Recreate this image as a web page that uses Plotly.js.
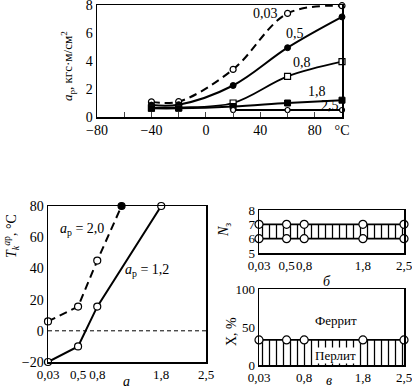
<!DOCTYPE html>
<html>
<head>
<meta charset="utf-8">
<script src="https://cdn.plot.ly/plotly-3.0.1.min.js"></script>
<style>html,body{margin:0;padding:0;background:#fff;}#chart{width:412px;height:389px;}</style>
</head>
<body>
<div id="chart"></div>
<script>
// Top panel: impact strength vs temperature for several a values
const tempX = [-40, -20, 20, 60, 100];
const ap003 = [1.08, 1.1, 3.4, 7.4, 7.95];
const ap05 = [0.85, 0.88, 2.25, 4.95, 7.15];
const ap08 = [0.65, 0.68, 1.0, 2.9, 3.95];
const ap18 = [0.62, 0.62, 0.75, 1.0, 1.2];
const tempX25 = [20, 60, 100];
const ap25 = [0.5, 0.5, 0.5];
const topTickVals = [-80, -60, -40, -20, 0, 20, 40, 60, 80, 100];
const topTickText = ['−80', '', '−40', '', '0', '', '40', '', '80', '°C'];

// Panel a: transition temperature vs a
const aX20 = [0.03, 0.5, 0.8, 1.18];
const tk20 = [6, 15.5, 45, 80];
const aX12 = [0.03, 0.5, 0.8, 1.8];
const tk12 = [-20, -10, 15.5, 80];
const aTickVals = [0.03, 0.5, 0.8, 1.8, 2.5];
const aTickText = ['0,03', '0,5', '0,8', '1,8', '2,5'];

// Panel б: grain number
const nX = [0.03, 0.5, 0.8, 1.8, 2.5];
const nLow = [6, 6, 6, 6, 6];
const nHigh = [7, 7, 7, 7, 7];

// Panel в: pearlite share
const xX = [0.03, 0.5, 0.8, 1.8, 2.5];
const xPearl = [33, 33, 33, 33, 33];
const vTickVals = [0.03, 0.8, 1.8, 2.5];
const vTickText = ['0,03', '0,8', '1,8', '2,5'];

const F = 'Liberation Serif, Times New Roman, serif';
const openM = (s, sym) => ({symbol: sym || 'circle', size: s, color: 'white', line: {color: 'black', width: 1.2}});
const fillM = (s, sym) => ({symbol: sym || 'circle', size: s, color: 'black', line: {color: 'black', width: 1}});

const traces = [
  {x: tempX, y: ap003, xaxis: 'x', yaxis: 'y', mode: 'lines+markers', line: {color: 'black', width: 2, dash: '8px,5px', shape: 'spline'}, marker: openM(6), cliponaxis: false},
  {x: tempX, y: ap05, xaxis: 'x', yaxis: 'y', mode: 'lines+markers', line: {color: 'black', width: 2, shape: 'spline'}, marker: fillM(6), cliponaxis: false},
  {x: tempX, y: ap08, xaxis: 'x', yaxis: 'y', mode: 'lines+markers', line: {color: 'black', width: 1.8, shape: 'spline'}, marker: openM(6, 'square'), cliponaxis: false},
  {x: tempX, y: ap18, xaxis: 'x', yaxis: 'y', mode: 'lines+markers', line: {color: 'black', width: 2, shape: 'spline'}, marker: fillM(6, 'square'), cliponaxis: false},
  {x: tempX25, y: ap25, xaxis: 'x', yaxis: 'y', mode: 'lines+markers', line: {color: 'black', width: 1.8}, marker: openM(5), cliponaxis: false},

  {x: aX20, y: tk20, xaxis: 'x2', yaxis: 'y2', mode: 'lines+markers', line: {color: 'black', width: 2, dash: '8px,5px'}, marker: {symbol: 'circle', size: 7, color: ['white','white','white','black'], line: {color: 'black', width: 1.2}}, cliponaxis: false},
  {x: aX12, y: tk12, xaxis: 'x2', yaxis: 'y2', mode: 'lines+markers', line: {color: 'black', width: 2}, marker: openM(7), cliponaxis: false},

  {x: nX, y: nLow, xaxis: 'x3', yaxis: 'y3', mode: 'lines', line: {color: 'black', width: 1.8}, hoverinfo: 'skip'},
  {x: nX, y: nHigh, xaxis: 'x3', yaxis: 'y3', mode: 'lines', fill: 'tonexty', fillcolor: 'white', fillpattern: {shape: '|', size: 7, solidity: 0.18, fgcolor: 'black', bgcolor: 'white'}, line: {color: 'black', width: 1.8}},
  {x: nX, y: nLow, xaxis: 'x3', yaxis: 'y3', mode: 'markers', marker: openM(8), cliponaxis: false},
  {x: nX, y: nHigh, xaxis: 'x3', yaxis: 'y3', mode: 'markers', marker: openM(8), cliponaxis: false},

  {x: xX, y: xPearl, xaxis: 'x4', yaxis: 'y4', mode: 'lines+markers', fill: 'tozeroy', fillcolor: 'white', fillpattern: {shape: '|', size: 7, solidity: 0.18, fgcolor: 'black', bgcolor: 'white'}, line: {color: 'black', width: 1.8}, marker: openM(8), cliponaxis: false}
];

const axBase = {showline: true, mirror: true, linecolor: 'black', linewidth: 1.5, showgrid: false, zeroline: false, ticks: '', tickangle: 0, ticklabeloverflow: 'allow', tickfont: {family: F, size: 14, color: 'black'}, fixedrange: true};
const f13 = {family: F, size: 13, color: 'black'};

const layout = {
  width: 412, height: 389,
  margin: {l: 0, r: 0, t: 0, b: 0},
  paper_bgcolor: 'white', plot_bgcolor: 'white',
  showlegend: false,
  font: {family: F, color: 'black'},
  xaxis: Object.assign({}, axBase, {domain: [97/412, 342/412], range: [-80, 100], anchor: 'y', tickvals: topTickVals, ticktext: topTickText, ticks: 'inside', ticklen: 5, tickwidth: 1}),
  yaxis: Object.assign({}, axBase, {domain: [1 - 117/389, 1 - 5/389], range: [0, 8], anchor: 'x', tickvals: [0, 2, 4, 6, 8]}),
  xaxis2: Object.assign({}, axBase, {domain: [48/412, 206/412], range: [0.03, 2.5], anchor: 'y2', tickvals: aTickVals, ticktext: aTickText, tickfont: f13}),
  yaxis2: Object.assign({}, axBase, {domain: [1 - 362/389, 1 - 206/389], range: [-20, 80], anchor: 'x2', tickvals: [-20, 0, 20, 40, 60, 80]}),
  xaxis3: Object.assign({}, axBase, {domain: [259/412, 404/412], range: [0.03, 2.5], anchor: 'y3', tickvals: aTickVals, ticktext: aTickText, tickfont: f13}),
  yaxis3: Object.assign({}, axBase, {domain: [1 - 253/389, 1 - 210/389], range: [5, 8], anchor: 'x3', tickvals: [5, 6, 7, 8], tickfont: f13}),
  xaxis4: Object.assign({}, axBase, {domain: [259/412, 404/412], range: [0.03, 2.5], anchor: 'y4', tickvals: vTickVals, ticktext: vTickText, tickfont: f13}),
  yaxis4: Object.assign({}, axBase, {domain: [1 - 365/389, 1 - 289/389], range: [0, 100], anchor: 'x4', tickvals: [0, 50, 100], tickfont: f13}),
  shapes: [
    {type: 'line', xref: 'x2 domain', yref: 'y2', x0: 0, x1: 1, y0: 0, y1: 0, line: {color: 'black', width: 1, dash: '4px,3px'}}
  ],
  annotations: [
    {xref: 'x', yref: 'y', x: 43.5, y: 7.4, text: '0,03', showarrow: false, font: {family: F, size: 14}},
    {xref: 'x', yref: 'y', x: 65.6, y: 6.0, text: '0,5', showarrow: false, font: {family: F, size: 14}},
    {xref: 'x', yref: 'y', x: 70.7, y: 3.9, text: '0,8', showarrow: false, font: {family: F, size: 14}},
    {xref: 'x', yref: 'y', x: 81.7, y: 1.8, text: '1,8', showarrow: false, font: {family: F, size: 14}},
    {xref: 'x', yref: 'y', x: 91, y: 0.8, text: '2,5', showarrow: false, font: {family: F, size: 14}},
    {xref: 'paper', yref: 'paper', xanchor: 'center', yanchor: 'middle', x: 68/412, y: 1 - 66/389, text: '<i>a</i><sub>р</sub>, кгс·м/см<sup>2</sup>', textangle: -90, showarrow: false, font: {family: F, size: 13}},

    {xref: 'x2', yref: 'y2', x: 0.56, y: 65, text: '<i>a</i><sub>р</sub> = 2,0', showarrow: false, font: {family: F, size: 14}},
    {xref: 'x2', yref: 'y2', x: 1.58, y: 38.5, text: '<i>a</i><sub>р</sub> = 1,2', showarrow: false, font: {family: F, size: 14}},
    {xref: 'paper', yref: 'paper', xanchor: 'center', yanchor: 'middle', x: 11/412, y: 1 - 236/389, text: '<i>T</i><sub><i>k</i></sub><sup><i>a</i>р</sup>, °C', textangle: -90, showarrow: false, font: {family: F, size: 14}},
    {xref: 'paper', yref: 'paper', xanchor: 'center', yanchor: 'middle', x: 127/412, y: 1 - 381/389, text: '<i>a</i>', showarrow: false, font: {family: F, size: 14}},

    {xref: 'paper', yref: 'paper', xanchor: 'center', yanchor: 'middle', x: 225/412, y: 1 - 230/389, text: '<i>N</i><sub>з</sub>', textangle: -90, showarrow: false, font: {family: F, size: 14}},
    {xref: 'paper', yref: 'paper', xanchor: 'center', yanchor: 'middle', x: 327/412, y: 1 - 281/389, text: '<i>б</i>', showarrow: false, font: {family: F, size: 14}},

    {xref: 'x4', yref: 'y4', x: 1.35, y: 59, text: 'Феррит', showarrow: false, font: {family: F, size: 13}},
    {xref: 'x4', yref: 'y4', x: 1.33, y: 13, text: 'Перлит', showarrow: false, bgcolor: 'white', borderpad: 0, font: {family: F, size: 13}},
    {xref: 'paper', yref: 'paper', xanchor: 'center', yanchor: 'middle', x: 231/412, y: 1 - 332/389, text: 'X, %', textangle: -90, showarrow: false, font: {family: F, size: 14}},
    {xref: 'paper', yref: 'paper', xanchor: 'center', yanchor: 'middle', x: 329/412, y: 1 - 380/389, text: '<i>в</i>', showarrow: false, font: {family: F, size: 14}}
  ]
};

Plotly.newPlot('chart', traces, layout, {staticPlot: true, displayModeBar: false});
</script>
</body>
</html>
